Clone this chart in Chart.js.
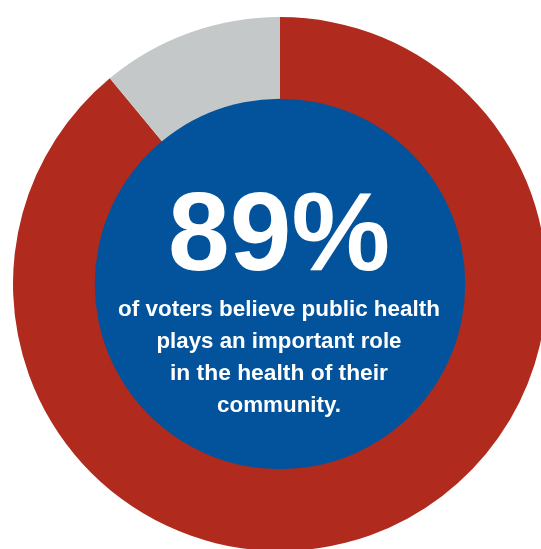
<!DOCTYPE html>
<html>
<head>
<meta charset="utf-8">
<script src="https://cdn.jsdelivr.net/npm/chart.js@4/dist/chart.umd.min.js"></script>
<style>
  html, body { margin: 0; padding: 0; width: 541px; height: 549px; overflow: hidden; background: #ffffff; }
  #c { position: absolute; left: 13px; top: 17px; }
</style>
</head>
<body>
<canvas id="c" width="534" height="534"></canvas>
<script>
// Data
const categories = ["Believe public health plays an important role", "Other"];
const values = [89, 11];
const colors = ["#B02B1D", "#C4C8C9"];
const headline = "89%";
const bodyLines = ["of voters believe public health", "plays an important role", "in the health of their", "community."];

const centerPlugin = {
  id: 'centerPlugin',
  afterDatasetsDraw(chart) {
    const arc = chart.getDatasetMeta(0).data[0];
    const ctx = chart.ctx;
    const cx = arc.x, cy = arc.y;
    const r = arc.innerRadius + 1;
    ctx.save();
    ctx.beginPath();
    ctx.arc(cx, cy, r, 0, Math.PI * 2);
    ctx.fillStyle = "#02539B";
    ctx.fill();

    ctx.fillStyle = "#ffffff";
    ctx.textAlign = "center";
    ctx.textBaseline = "alphabetic";

    function fitText(text, font, x, y, targetW) {
      ctx.font = font;
      const w = ctx.measureText(text).width;
      const s = targetW / w;
      ctx.save();
      ctx.translate(x, y);
      ctx.scale(s, 1);
      ctx.fillText(text, 0, 0);
      ctx.restore();
    }
    // headline: baseline at y=270 (page), canvas offset top 17
    const dx = -13, dy = -17;
    fitText(headline, "bold 112px 'Liberation Sans', Arial, sans-serif", 279 + dx, 270 + dy, 222);
    const widths = [322, 245, 218, 124];
    const baselines = [316, 348, 380, 412];
    bodyLines.forEach((t, i) => {
      fitText(t, "bold 22px 'Liberation Sans', Arial, sans-serif", 279 + dx, baselines[i] + dy, widths[i]);
    });
    ctx.restore();
  }
};

new Chart(document.getElementById('c'), {
  type: 'doughnut',
  data: {
    labels: categories,
    datasets: [{
      data: values,
      backgroundColor: colors,
      borderWidth: 0,
      hoverOffset: 0
    }]
  },
  options: {
    responsive: false,
    devicePixelRatio: 1,
    animation: false,
    cutout: '69%',
    layout: { padding: 0 },
    plugins: {
      legend: { display: false },
      tooltip: { enabled: false }
    },
    events: []
  },
  plugins: [centerPlugin]
});
</script>
</body>
</html>
